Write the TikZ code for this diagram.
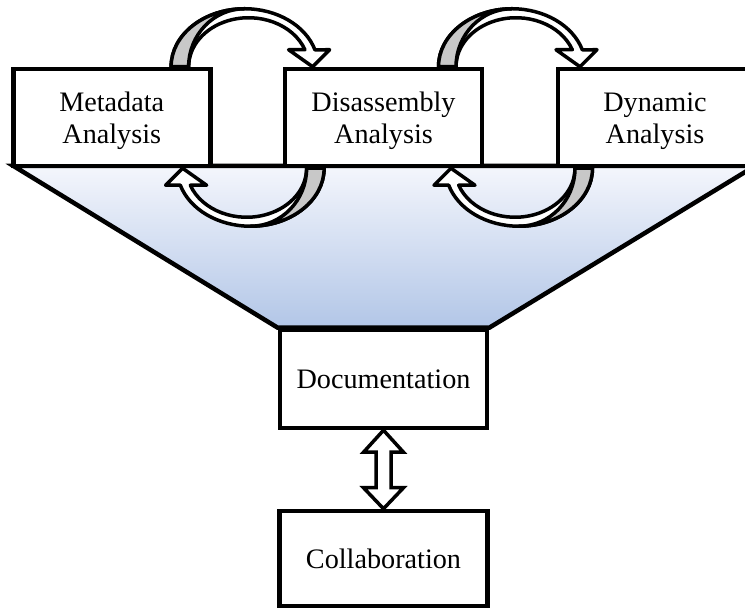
\documentclass[tikz,border=0pt]{standalone}
\usepackage{fontspec}
\setmainfont{Liberation Serif}
\usetikzlibrary{calc,backgrounds}

\definecolor{funnelTop}{RGB}{244,246,252}
\definecolor{funnelBottom}{RGB}{178,198,231}
\definecolor{backgray}{RGB}{200,200,200}

\tikzset{
  stagebox/.style={draw, line width=4.5pt, fill=white, inner sep=0pt,
    minimum width=197pt, minimum height=97pt},
  stagetext/.style={inner sep=0pt, align=center,
    font=\fontsize{28.2}{31.5}\selectfont},
  arrowline/.style={draw=black, line width=3.5pt, line join=round},
  funnel/.style={line width=4.5pt, line join=miter},
  % curved hand-over arrow: back face in gray, front face white
  loop arrow/.pic={
    \draw[arrowline, fill=white]
      (-76.5,0) arc[start angle=180, end angle=17, x radius=73.5, y radius=58]
      -- (82,17) -- (65,0) -- (41,17) -- (57.3,17)
      arc[start angle=20.3, end angle=180, x radius=60, y radius=49]
      -- cycle;
    \draw[arrowline, fill=backgray]
      (-76.5,0) arc[start angle=180, end angle=90, x radius=73.5, y radius=58]
      arc[start angle=90, end angle=180, x radius=56, y radius=58]
      -- cycle;
  }
}

\begin{document}
\begin{tikzpicture}[x=1pt, y=1pt]
  \useasboundingbox (0,0) rectangle (745,609);
  \clip (0,0) rectangle (745,609);

  % analysis stages
  \node[stagebox] (meta) at (111.75,491.5) {};
  \node[stagebox] (dis)  at (383.5,491.5)  {};
  \node[stagebox, minimum width=198pt] (dyn) at (657,491.5) {};
  \node[stagetext] (metaText) at ($(meta.center)+(0,-3.5)$) {Metadata\\Analysis};
  \node[stagetext] (disText)  at ($(dis.center)+(0,-3.5)$)  {Disassembly\\Analysis};
  \node[stagetext] (dynText)  at ($(dyn.center)+(-2,-3.5)$) {Dynamic\\Analysis};

  % output stages
  \node[stagebox, minimum width=207pt, minimum height=98pt] (doc) at (383.5,230) {};
  \node[stagebox, minimum width=208pt, minimum height=95pt] (collab) at (383.5,50.5) {};
  \node[stagetext] (docText) at (doc.center) {Documentation};
  \node[stagetext] (collabText) at (collab.center) {Collaboration};

  % funnel collecting the analyses into the documentation
  \begin{scope}[on background layer]
    \fill[white] (0,0) rectangle (745,609);
    \path[shade, top color=funnelTop, bottom color=funnelBottom]
      (13.5,443) -- (755,443) -- (doc.north east) -- (doc.north west) -- cycle;
    \draw[funnel] (13.5,443) -- (755,443) -- (doc.north east) -- (doc.north west) -- cycle;
  \end{scope}

  % iteration loops between neighbouring stages
  \pic at ($(meta.north east)!0.5!(dis.north west)$) {loop arrow};
  \pic at ($(dis.north east)!0.5!(dyn.north west)+(-5,0)$) {loop arrow};
  \pic[rotate=180] at ($(meta.south east)!0.5!(dis.south west)$) {loop arrow};
  \pic[rotate=180] at ($(dis.south east)!0.5!(dyn.south west)+(-4,0)$) {loop arrow};

  % two-way exchange between documentation and collaboration
  \draw[arrowline, line join=miter, fill=white]
    (doc.south) -- ++(20,-22) -- ++(-12.5,0)
    -- ($(collab.north)+(7.5,21)$) -- ++(12.5,0)
    -- (collab.north) -- ++(-20,21) -- ++(12.5,0)
    -- ($(doc.south)+(-7.5,-22)$) -- ++(-12.5,0) -- cycle;
\end{tikzpicture}
\end{document}
